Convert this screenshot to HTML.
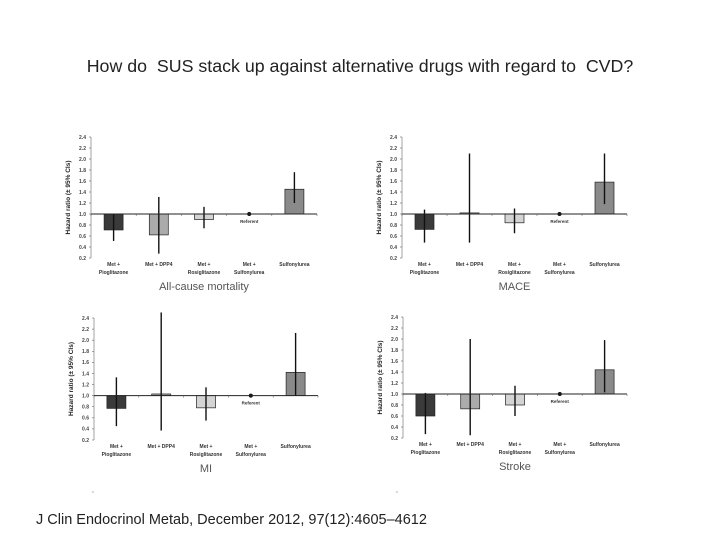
<!DOCTYPE html>
<html><head><meta charset="utf-8">
<style>
body{margin:0;background:#fff;}
#wrap{position:relative;width:720px;height:540px;overflow:hidden;font-family:"Liberation Sans",sans-serif;}
#title{position:absolute;top:56px;left:0;width:720px;text-align:center;font-size:17.8px;color:#222;}
#foot{position:absolute;top:512px;left:36px;font-size:14.5px;color:#222;}
svg{position:absolute;left:0;top:0;}
</style></head>
<body>
<div id="wrap">
<div id="title">How do &nbsp;SUS stack up against alternative drugs with regard to &nbsp;CVD?</div>
<svg id="chart" width="720" height="540"></svg>
<div id="foot">J Clin Endocrinol Metab, December 2012, 97(12):4605–4612</div>
</div>
<script>
const categories=[["Met +","Pioglitazone"],["Met + DPP4",""],["Met +","Rosiglitazone"],["Met +","Sulfonylurea"],["Sulfonylurea",""]];
const yTicks=[0.2,0.4,0.6,0.8,1.0,1.2,1.4,1.6,1.8,2.0,2.2,2.4];
const panelTitles=["All-cause mortality","MACE","MI","Stroke"];
const hrAll=[0.71,0.62,0.90,1.0,1.45];
const loAll=[0.51,0.28,0.74,1.0,1.20];
const hiAll=[1.0,1.31,1.13,1.0,1.76];
const hrMace=[0.72,1.02,0.84,1.0,1.58];
const loMace=[0.48,0.48,0.65,1.0,1.18];
const hiMace=[1.08,2.10,1.10,1.0,2.10];
const hrMI=[0.77,1.03,0.78,1.0,1.42];
const loMI=[0.45,0.37,0.55,1.0,1.00];
const hiMI=[1.33,2.50,1.15,1.0,2.13];
const hrStroke=[0.60,0.73,0.80,1.0,1.44];
const loStroke=[0.27,0.25,0.60,1.0,1.03];
const hiStroke=[1.02,2.00,1.15,1.0,1.98];
const seriesHR=[hrAll,hrMace,hrMI,hrStroke];
const seriesLo=[loAll,loMace,loMI,loStroke];
const seriesHi=[hiAll,hiMace,hiMI,hiStroke];
const refIndex=3;

const svg=document.getElementById('chart');
const NS="http://www.w3.org/2000/svg";
function mk(tag,attrs,parent){const e=document.createElementNS(NS,tag);for(const k in attrs)e.setAttribute(k,attrs[k]);(parent||svg).appendChild(e);return e;}
const fills=["#3a3a3a","#ababab","#d4d4d4","#000","#8a8a8a"];
const panels=[{x0:91,x1:317,y0:258,y1:137},{x0:402,x1:627,y0:258,y1:137},{x0:94,x1:318,y0:440,y1:318},{x0:403,x1:627,y0:438,y1:317}];

panels.forEach((p,pi)=>{
  const g=mk('g',{});
  
  
  const ys=v=>p.y0-(v-0.2)/(2.4-0.2)*(p.y0-p.y1);
  const band=(p.x1-p.x0)/categories.length;
  const xs=i=>p.x0+band*(i+0.5);
  const y1=ys(1.0);
  const ya=mk('line',{x1:p.x0,x2:p.x0,y1:p.y1,y2:p.y0,stroke:'#666','stroke-width':0.6},g);
  
  
  yTicks.forEach(t=>{
    mk('line',{x1:p.x0-2,x2:p.x0,y1:ys(t),y2:ys(t),stroke:'#666','stroke-width':0.6},g);
    const tx=mk('text',{x:p.x0-5,y:ys(t)+1.8,'font-size':5,'text-anchor':'end',fill:'#444','font-weight':'bold'},g);
    tx.textContent=t.toFixed(1);
    
    
  });
  const yt=mk('text',{x:0,y:0,'font-size':6.5,'font-weight':'bold','text-anchor':'middle',fill:'#222',transform:`translate(${p.x0-21},${(p.y0+p.y1)/2}) rotate(-90)`},g);
  yt.textContent="Hazard ratio (± 95% CIs)";
  
  
  categories.forEach((c,i)=>{
    const v=seriesHR[pi][i];
    const cx=xs(i);
    if(i===refIndex){
      const d=mk('circle',{cx:cx,cy:y1,r:2,fill:'#111'},g);
      
      
      const rt=mk('text',{x:cx,y:y1+9,'font-size':4.5,'text-anchor':'middle',fill:'#333','font-weight':'bold'},g);
      rt.textContent="Referent";
      
      
    } else {
      const top=Math.min(ys(v),y1), h=Math.max(Math.abs(ys(v)-y1),1.2);
      const b=mk('rect',{x:cx-9.5,y:top,width:19,height:h,fill:fills[i],stroke:'#222','stroke-width':0.7},g);
      
      
      const lo=seriesLo[pi][i], hi=seriesHi[pi][i];
      const e=mk('line',{x1:cx,x2:cx,y1:Math.max(ys(hi),p.y1-6),y2:ys(lo),stroke:'#111','stroke-width':1.4},g);
      
      
    }
    const l1=mk('text',{x:cx,y:p.y0+8,'font-size':5,'text-anchor':'middle',fill:'#333','font-weight':'bold'},g);
    l1.textContent=c[0];
    
    
    if(c[1]){const l2=mk('text',{x:cx,y:p.y0+16,'font-size':5,'text-anchor':'middle',fill:'#333','font-weight':'bold'},g);l2.textContent=c[1];
      
      }
  });
  const bl=mk('line',{x1:p.x0,x2:p.x1,y1:y1,y2:y1,stroke:'#222','stroke-width':1},g);
  
  
  for(let k=0;k<=categories.length;k++) mk('line',{x1:p.x0+band*k,x2:p.x0+band*k,y1:y1,y2:y1+2,stroke:'#666','stroke-width':0.6},g);
  const pt=mk('text',{x:(p.x0+p.x1)/2,y:p.y0+32,'font-size':11,'text-anchor':'middle',fill:'#555'},g);
  pt.textContent=panelTitles[pi];
  
  
});
mk('circle',{cx:93,cy:492,r:0.6,fill:'#777'});
mk('circle',{cx:397,cy:492,r:0.6,fill:'#777'});
</script>
</body></html>
